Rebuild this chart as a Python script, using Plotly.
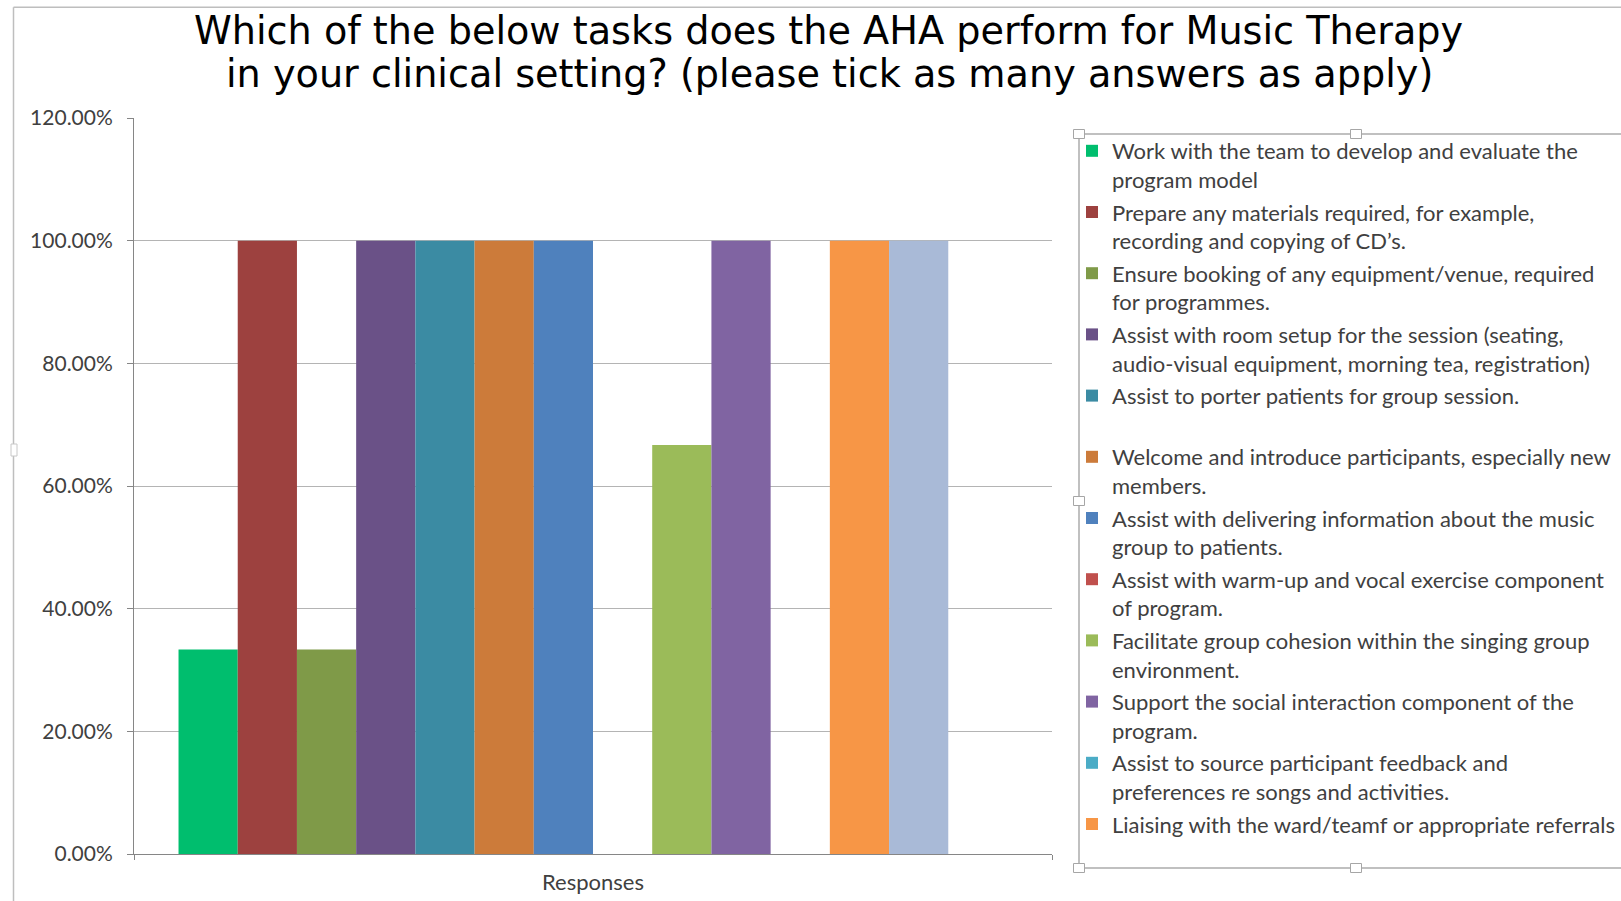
import plotly.graph_objects as go

# ---------------- data ----------------
category = ["Responses"]
series_names = [
    "Work with the team to develop and evaluate the<br>program model",
    "Prepare any materials required, for example,<br>recording and copying of CD\u2019s.",
    "Ensure booking of any equipment/venue, required<br>for programmes.",
    "Assist with room setup for the session (seating,<br>audio-visual equipment, morning tea, registration)",
    "Assist to porter patients for group session.<br> ",
    "Welcome and introduce participants, especially new<br>members.",
    "Assist with delivering information about the music<br>group to patients.",
    "Assist with warm-up and vocal exercise component<br>of program.",
    "Facilitate group cohesion within the singing group<br>environment.",
    "Support the social interaction component of the<br>program.",
    "Assist to source participant feedback and<br>preferences re songs and activities.",
    "Liaising with the ward/teamf or appropriate referrals",
    "Other tasks",
    "Other",
]
series_values = [0.3333, 1.0, 0.3333, 1.0, 1.0, 1.0, 1.0, 0.0, 0.6667, 1.0, 0.0, 1.0, 1.0, 0.0]
series_colors = [
    "#00BE6E", "#9D413F", "#7F9A48", "#6A5187", "#3B8BA3", "#CC7B3A", "#4F81BD",
    "#C0504D", "#9BBB59", "#8064A2", "#4BACC6", "#F79646", "#A9BAD7", "#D99694",
]
in_legend = [True] * 12 + [False, False]
y_ticks = [0, 0.2, 0.4, 0.6, 0.8, 1.0, 1.2]

title_line1 = "Which of the below tasks does the AHA perform for Music Therapy"
title_line2 = "in your clinical setting? (please tick as many answers as apply)"

# ---------------- layout geometry (pixels) ----------------
W, H = 1621, 901
L, R, T, B = 134, 1052, 118, 854


def px(x):
    return (x - L) / (R - L)


def py(y):
    return (B - y) / (B - T)


fig = go.Figure()
for i, (nm, v, c) in enumerate(zip(series_names, series_values, series_colors)):
    fig.add_trace(go.Bar(
        x=category, y=[v], name=nm,
        marker=dict(color=c, line=dict(width=0)),
        showlegend=in_legend[i], legendgroup=f"g{i}",
    ))

grey_line = "#868686"
shapes = []
# outer chart border (top and left)
shapes.append(dict(type="line", xref="paper", yref="paper",
                   x0=px(13.5), x1=px(W + 5), y0=py(7.3), y1=py(7.3),
                   line=dict(color="#BEBEBE", width=1.5)))
shapes.append(dict(type="line", xref="paper", yref="paper",
                   x0=px(13.5), x1=px(13.5), y0=py(7.3), y1=py(H + 5),
                   line=dict(color="#BEBEBE", width=1.5)))
# legend box
shapes.append(dict(type="line", xref="paper", yref="paper",
                   x0=px(1079), x1=px(1079), y0=py(134), y1=py(868),
                   line=dict(color="#C0C0C0", width=2)))
shapes.append(dict(type="line", xref="paper", yref="paper",
                   x0=px(1079), x1=px(W + 5), y0=py(134), y1=py(134),
                   line=dict(color="#C0C0C0", width=2)))
shapes.append(dict(type="line", xref="paper", yref="paper",
                   x0=px(1079), x1=px(W + 5), y0=py(868), y1=py(868),
                   line=dict(color="#C0C0C0", width=2)))
# selection handles
for hx, hy in [(1079, 134), (1356, 134), (1079, 501), (1079, 868), (1356, 868)]:
    shapes.append(dict(type="rect", xref="paper", yref="paper",
                       x0=px(hx - 5.5), x1=px(hx + 5.5), y0=py(hy - 4.5), y1=py(hy + 4.5),
                       line=dict(color="#A6A6A6", width=1), fillcolor="white"))
shapes.append(dict(type="rect", xref="paper", yref="paper",
                   x0=px(11), x1=px(17), y0=py(444), y1=py(456),
                   line=dict(color="#C8C8C8", width=1), fillcolor="white"))

annotations = [
    dict(text=title_line1, xref="paper", yref="paper", x=px(828.5), y=py(31),
         xanchor="center", yanchor="middle", showarrow=False,
         font=dict(family="DejaVu Sans", size=38.2, color="#000000")),
    dict(text=title_line2, xref="paper", yref="paper", x=px(829), y=py(74),
         xanchor="center", yanchor="middle", showarrow=False,
         font=dict(family="DejaVu Sans", size=38.2, color="#000000")),
]

fig.update_layout(
    width=W, height=H,
    margin=dict(l=L, r=W - R, t=T, b=H - B, pad=0, autoexpand=False),
    paper_bgcolor="white", plot_bgcolor="white",
    barmode="group", bargap=0.097, bargroupgap=0,
    font=dict(family="Lato", size=21, color="#404040"),
    showlegend=True,
    legend=dict(
        x=px(1072), y=py(130), xanchor="left", yanchor="top",
        font=dict(family="Lato", size=22, color="#404040"),
        bgcolor="rgba(0,0,0,0)", borderwidth=0,
        valign="top", tracegroupgap=1, traceorder="grouped",
    ),
    shapes=shapes,
    annotations=annotations,
)

fig.update_yaxes(
    range=[0, 1.2], tickvals=y_ticks, tickformat=".2%",
    showgrid=True, gridcolor="#B4B4B4", gridwidth=1, zeroline=False,
    showline=True, linecolor=grey_line, linewidth=1,
    ticks="outside", ticklen=6, tickcolor=grey_line,
    tickfont=dict(family="Lato", size=21, color="#404040"),
    ticklabelstandoff=10,
)
fig.update_xaxes(
    type="category", showgrid=False, zeroline=False,
    showline=True, linecolor=grey_line, linewidth=1,
    ticks="outside", ticklen=5, tickcolor=grey_line, tickson="boundaries",
    tickfont=dict(family="Lato", size=22, color="#404040"),
    ticklabelstandoff=9,
)

fig.write_html("out.html")
